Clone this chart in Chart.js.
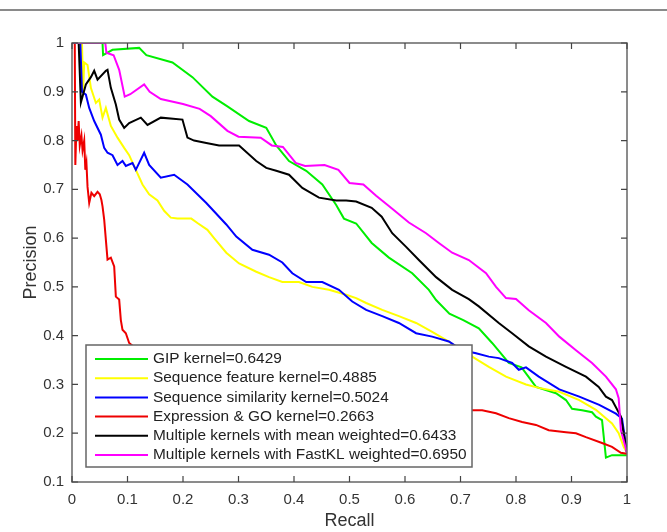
<!DOCTYPE html>
<html>
<head>
<meta charset="utf-8">
<script src="https://cdn.jsdelivr.net/npm/chart.js@4.4.1/dist/chart.umd.min.js"></script>
<style>
  html, body { margin: 0; padding: 0; background: #fff; }
  #wrap { position: relative; width: 667px; height: 532px; }
  #rule { position: absolute; left: 0; top: 9px; width: 667px; height: 0; border-top: 2px solid #8a8a8a; }
  canvas { position: absolute; left: 0; top: 0; }
</style>
</head>
<body>
<div id="wrap">
  <canvas id="pr" width="667" height="532"></canvas>
  <div id="rule"></div>
</div>
<script>
// precision-recall curves, values
const gipKernel = [[0,1],[0.055,1],[0.056,0.975],[0.073,0.986],[0.121,0.99],[0.134,0.975],[0.181,0.96],[0.217,0.93],[0.253,0.89],[0.28,0.87],[0.319,0.84],[0.35,0.826],[0.368,0.79],[0.391,0.758],[0.422,0.738],[0.451,0.71],[0.476,0.668],[0.49,0.64],[0.512,0.63],[0.54,0.59],[0.571,0.56],[0.613,0.528],[0.643,0.494],[0.656,0.473],[0.68,0.445],[0.705,0.432],[0.733,0.415],[0.757,0.385],[0.787,0.344],[0.81,0.335],[0.836,0.295],[0.872,0.282],[0.89,0.268],[0.901,0.25],[0.919,0.247],[0.937,0.243],[0.944,0.234],[0.955,0.227],[0.962,0.15],[0.973,0.155],[1,0.155]];

const seqFeature = [[0,1],[0.018,1],[0.02,0.9],[0.022,0.96],[0.028,0.955],[0.034,0.908],[0.043,0.877],[0.049,0.884],[0.055,0.847],[0.061,0.867],[0.07,0.83],[0.082,0.806],[0.094,0.785],[0.103,0.77],[0.115,0.74],[0.127,0.71],[0.139,0.69],[0.154,0.677],[0.166,0.656],[0.178,0.642],[0.19,0.64],[0.215,0.64],[0.226,0.631],[0.244,0.617],[0.256,0.6],[0.278,0.57],[0.301,0.548],[0.332,0.531],[0.355,0.52],[0.379,0.51],[0.409,0.51],[0.433,0.5],[0.463,0.494],[0.494,0.484],[0.512,0.477],[0.53,0.467],[0.559,0.453],[0.589,0.44],[0.62,0.426],[0.649,0.408],[0.679,0.388],[0.71,0.364],[0.721,0.357],[0.751,0.336],[0.782,0.316],[0.818,0.3],[0.841,0.293],[0.878,0.285],[0.914,0.268],[0.944,0.248],[0.973,0.22],[0.985,0.2],[0.994,0.172],[1,0.16]];

const seqSimilarity = [[0,1],[0.015,1],[0.018,0.9],[0.025,0.894],[0.031,0.867],[0.04,0.84],[0.052,0.812],[0.058,0.785],[0.064,0.775],[0.073,0.77],[0.082,0.75],[0.091,0.758],[0.097,0.748],[0.109,0.754],[0.115,0.74],[0.13,0.775],[0.139,0.75],[0.16,0.724],[0.184,0.73],[0.208,0.71],[0.242,0.672],[0.278,0.628],[0.296,0.603],[0.325,0.576],[0.355,0.566],[0.379,0.55],[0.397,0.528],[0.422,0.51],[0.451,0.51],[0.481,0.494],[0.505,0.47],[0.53,0.453],[0.559,0.44],[0.589,0.426],[0.62,0.405],[0.649,0.398],[0.679,0.388],[0.703,0.37],[0.728,0.364],[0.751,0.357],[0.769,0.354],[0.793,0.344],[0.805,0.33],[0.818,0.335],[0.841,0.316],[0.878,0.29],[0.914,0.275],[0.95,0.258],[0.98,0.24],[0.991,0.23],[1,0.16]];

const exprGo = [[0,1],[0.005,1],[0.006,0.75],[0.008,0.83],[0.01,0.8],[0.012,0.84],[0.014,0.79],[0.017,0.81],[0.019,0.78],[0.022,0.8],[0.024,0.74],[0.026,0.754],[0.028,0.705],[0.031,0.672],[0.035,0.693],[0.04,0.686],[0.046,0.695],[0.05,0.69],[0.053,0.678],[0.055,0.665],[0.058,0.638],[0.064,0.556],[0.07,0.56],[0.076,0.542],[0.079,0.48],[0.085,0.474],[0.088,0.432],[0.091,0.412],[0.097,0.405],[0.103,0.385],[0.13,0.36],[0.2,0.32],[0.3,0.29],[0.4,0.27],[0.5,0.262],[0.6,0.255],[0.68,0.248],[0.715,0.247],[0.739,0.247],[0.764,0.241],[0.787,0.231],[0.811,0.223],[0.836,0.217],[0.859,0.206],[0.89,0.202],[0.908,0.2],[0.926,0.192],[0.955,0.18],[0.973,0.172],[0.989,0.16],[1,0.158]];

const meanWeighted = [[0,1],[0.012,1],[0.016,0.878],[0.025,0.915],[0.034,0.93],[0.04,0.943],[0.046,0.925],[0.061,0.943],[0.064,0.945],[0.07,0.908],[0.079,0.874],[0.085,0.843],[0.094,0.826],[0.103,0.836],[0.124,0.847],[0.136,0.832],[0.16,0.847],[0.199,0.843],[0.208,0.806],[0.22,0.8],[0.242,0.795],[0.265,0.79],[0.301,0.79],[0.332,0.758],[0.35,0.744],[0.368,0.738],[0.391,0.73],[0.415,0.703],[0.445,0.683],[0.476,0.677],[0.494,0.677],[0.512,0.675],[0.54,0.662],[0.558,0.644],[0.577,0.61],[0.602,0.582],[0.625,0.555],[0.656,0.52],[0.685,0.494],[0.715,0.475],[0.733,0.46],[0.769,0.426],[0.793,0.405],[0.823,0.378],[0.854,0.357],[0.89,0.336],[0.926,0.316],[0.949,0.295],[0.962,0.275],[0.973,0.268],[0.989,0.234],[1,0.16]];

const fastKL = [[0,1],[0.06,1],[0.062,0.98],[0.075,0.975],[0.085,0.945],[0.095,0.89],[0.105,0.895],[0.13,0.915],[0.14,0.9],[0.16,0.885],[0.2,0.875],[0.23,0.865],[0.25,0.85],[0.28,0.82],[0.3,0.808],[0.34,0.806],[0.36,0.79],[0.38,0.787],[0.403,0.754],[0.42,0.748],[0.455,0.75],[0.48,0.74],[0.5,0.713],[0.525,0.71],[0.548,0.687],[0.577,0.66],[0.607,0.632],[0.638,0.61],[0.661,0.59],[0.685,0.57],[0.715,0.555],[0.746,0.528],[0.764,0.5],[0.782,0.477],[0.8,0.475],[0.823,0.452],[0.854,0.426],[0.878,0.398],[0.908,0.37],[0.937,0.344],[0.962,0.316],[0.98,0.29],[0.985,0.272],[0.989,0.206],[1,0.16]];

const seriesNames = [
  'GIP kernel=0.6429',
  'Sequence feature kernel=0.4885',
  'Sequence similarity kernel=0.5024',
  'Expression & GO kernel=0.2663',
  'Multiple kernels with mean weighted=0.6433',
  'Multiple kernels with FastKL weighted=0.6950'
];
const seriesColors = ['#00ee00', '#ffff00', '#0000ff', '#ee0000', '#000000', '#ff00ff'];
const seriesData = [gipKernel, seqFeature, seqSimilarity, exprGo, meanWeighted, fastKL];

const xTicks = [0, 0.1, 0.2, 0.3, 0.4, 0.5, 0.6, 0.7, 0.8, 0.9, 1];
const yTicks = [0.1, 0.2, 0.3, 0.4, 0.5, 0.6, 0.7, 0.8, 0.9, 1];

const FONT = '"Liberation Sans", Arial, sans-serif';

// matlab style box with inward ticks
const boxPlugin = {
  id: 'box',
  afterDatasetsDraw(chart) {
    const { ctx, chartArea: a, scales } = chart;
    ctx.save();
    ctx.strokeStyle = '#666';
    ctx.lineWidth = 1.5;
    ctx.strokeRect(a.left, a.top, a.right - a.left, a.bottom - a.top);
    ctx.strokeStyle = '#444';
    ctx.lineWidth = 1.2;
    ctx.beginPath();
    xTicks.forEach(v => {
      const px = scales.x.getPixelForValue(v);
      ctx.moveTo(px, a.bottom); ctx.lineTo(px, a.bottom - 6);
      ctx.moveTo(px, a.top); ctx.lineTo(px, a.top + 6);
    });
    yTicks.forEach(v => {
      const py = scales.y.getPixelForValue(v);
      ctx.moveTo(a.left, py); ctx.lineTo(a.left + 6, py);
      ctx.moveTo(a.right, py); ctx.lineTo(a.right - 6, py);
    });
    ctx.stroke();
    ctx.restore();
  }
};

// legend box drawn inside the plot, like matlab 'southwest'
const legendPlugin = {
  id: 'insideLegend',
  afterDraw(chart) {
    const ctx = chart.ctx;
    const left = 86, top = 345, w = 386, h = 122, row = 19.2;
    ctx.save();
    ctx.fillStyle = '#fff';
    ctx.fillRect(left, top, w, h);
    ctx.strokeStyle = '#666';
    ctx.lineWidth = 1.5;
    ctx.strokeRect(left, top, w, h);
    ctx.font = '15.4px ' + FONT;
    ctx.textBaseline = 'middle';
    seriesNames.forEach((name, i) => {
      const y = top + 14 + i * row;
      ctx.strokeStyle = seriesColors[i];
      ctx.lineWidth = 2;
      ctx.beginPath();
      ctx.moveTo(95, y); ctx.lineTo(148, y);
      ctx.stroke();
      ctx.fillStyle = '#222';
      ctx.fillText(name, 153, y);
    });
    ctx.restore();
  }
};

new Chart(document.getElementById('pr'), {
  type: 'line',
  data: {
    datasets: seriesData.map((pts, i) => ({
      label: seriesNames[i],
      data: pts.map(p => ({ x: p[0], y: p[1] })),
      borderColor: seriesColors[i],
      borderWidth: 2,
      pointRadius: 0,
      tension: 0,
      fill: false,
      order: seriesData.length - i
    }))
  },
  options: {
    responsive: false,
    animation: false,
    layout: { padding: { top: 43, right: 40, left: 0, bottom: 0 } },
    plugins: { legend: { display: false }, tooltip: { enabled: false } },
    scales: {
      x: {
        type: 'linear', min: 0, max: 1,
        grid: { display: false },
        border: { display: false },
        afterFit: s => { s.height = 50; },
        afterBuildTicks: s => { s.ticks = xTicks.map(v => ({ value: v })); },
        ticks: { color: '#333', font: { size: 15, family: FONT }, padding: 1,
                 callback: v => String(v) },
        title: { display: true, text: 'Recall', color: '#333',
                 font: { size: 18, family: FONT }, padding: { top: 0, bottom: 0 } }
      },
      y: {
        type: 'linear', min: 0.1, max: 1,
        grid: { display: false },
        border: { display: false },
        afterFit: s => { s.width = 72; },
        afterBuildTicks: s => { s.ticks = yTicks.map(v => ({ value: v })); },
        ticks: { color: '#333', font: { size: 15, family: FONT }, padding: 0,
                 callback: v => String(v) },
        title: { display: true, text: 'Precision', color: '#333',
                 font: { size: 18, family: FONT }, padding: { top: 20, bottom: 0 } }
      }
    }
  },
  plugins: [boxPlugin, legendPlugin]
});
</script>
</body>
</html>
